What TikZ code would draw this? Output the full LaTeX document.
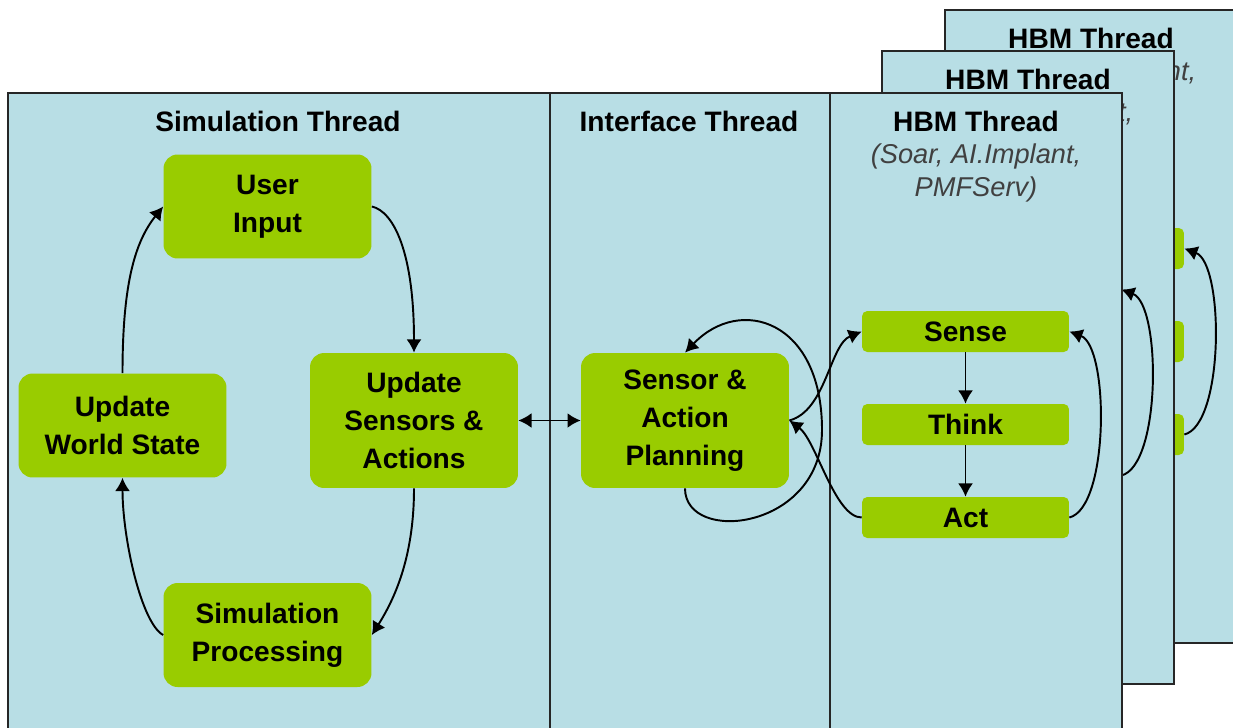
\documentclass[tikz,border=0pt]{standalone}
\usepackage{fontspec}
\setmainfont{Liberation Sans}
\usetikzlibrary{arrows.meta}

\definecolor{panelblue}{RGB}{184,222,229}
\definecolor{boxgreen}{RGB}{153,204,0}

\tikzset{
	panel/.style={fill=panelblue, draw=black!85, line width=0.8pt},
	divider/.style={draw=black!85, line width=0.8pt},
	title/.style={anchor=base, font=\bfseries\fontsize{16}{20}\selectfont},
	subtitle/.style={anchor=base, text=black!75, font=\itshape\fontsize{15.5}{19}\selectfont},
	box/.style={fill=boxgreen, rounded corners=8pt, minimum width=4.16cm, minimum height=2.08cm,
		align=center, font=\bfseries\fontsize{16}{21.5}\selectfont},
	tallbox/.style={box, minimum height=2.7cm},
	stepbox/.style={box, rounded corners=3pt, minimum width=4.14cm, minimum height=0.82cm},
	link/.style={line width=1.1pt, ->},
	dlink/.style={line width=1.1pt, <->},
}

\begin{document}
\begin{tikzpicture}[x=0.02cm, y=-0.02cm, >={Latex[length=7.5pt,width=8.5pt]}]
	
	\useasboundingbox (0,0) rectangle (1233,727);
	
	%% BACK HBM PANELS
	\foreach \dx/\dy/\n in {115/-83/c, 52/-42/b}
	{
		\begin{scope}[shift={(\dx,\dy)}]
			\draw[panel] (830,93) rectangle (1122,726);
			\node[title] (title\n) at (976,131) {HBM Thread};
			\node[subtitle] (soar\n) at (976,163) {(Soar, AI.Implant,};
			\node[stepbox] (sense\n) at (965.5,331.5) {};
			\node[stepbox] (think\n) at (965.5,424.5) {};
			\node[stepbox] (act\n) at (965.5,517.5) {};
			\draw[link] (act\n.east) .. controls +(40,-10) and +(40,15) .. (sense\n.east);
		\end{scope}
	}
	
	%% FRONT PANEL
	% Main
	\draw[panel] (8,93) rectangle (1122,735);
	\draw[divider] (550,93) -- (550,735);
	\draw[divider] (830,93) -- (830,735);
	
	% Simulation Thread
	\node[title] (simtitle) at (278,131) {Simulation Thread};
	\node[box] (ui) at (267.5,206.5) {User\\Input};
	\node[box] (ws) at (122.5,425.5) {Update\\World State};
	\node[tallbox] (us) at (414,420.5) {Update\\Sensors \&\\Actions};
	\node[box] (sp) at (267.5,635) {Simulation\\Processing};
	
	\draw[link] (ws.north) .. controls +(0,-90) and +(-28,35) .. (ui.west);
	\draw[link] (ui.east) .. controls +(22,5) and +(0,-100) .. (us.north);
	\draw[link] (us.south) .. controls +(0,70) and +(22,-35) .. (sp.east);
	\draw[link] (sp.west) .. controls +(-22,-12) and +(0,60) .. (ws.south);
	
	% Interface Thread
	\node[title] (intitle) at (689,131) {Interface Thread};
	\node[tallbox] (sap) at (685,420.5) {Sensor \&\\Action\\Planning};
	
	\draw[dlink] (us.east) -- (sap.west);
	\draw[link] (sap.south) .. controls (685,545) and (822,530) .. (822,430)
		.. controls (822,320) and (740,295) .. (sap.north);
	
	% HBM Thread
	\node[title] (titlea) at (976,131) {HBM Thread};
	\node[subtitle] (soara) at (976,163) {(Soar, AI.Implant,};
	\node[subtitle] (pmfa) at (976,196) {PMFServ)};
	\node[stepbox] (sensea) at (965.5,331.5) {Sense};
	\node[stepbox] (thinka) at (965.5,424.5) {Think};
	\node[stepbox] (acta) at (965.5,517.5) {Act};
	
	\draw[link] (sensea) -- (thinka);
	\draw[link] (thinka) -- (acta);
	\draw[link] (acta.east) .. controls +(40,-10) and +(40,15) .. (sensea.east);
	\draw[link] (sap.east) .. controls +(37,-10) and +(-32,13) .. (sensea.west);
	\draw[link] (acta.west) .. controls +(-27,0) and +(27,20) .. (sap.east);
	
\end{tikzpicture}
\end{document}
